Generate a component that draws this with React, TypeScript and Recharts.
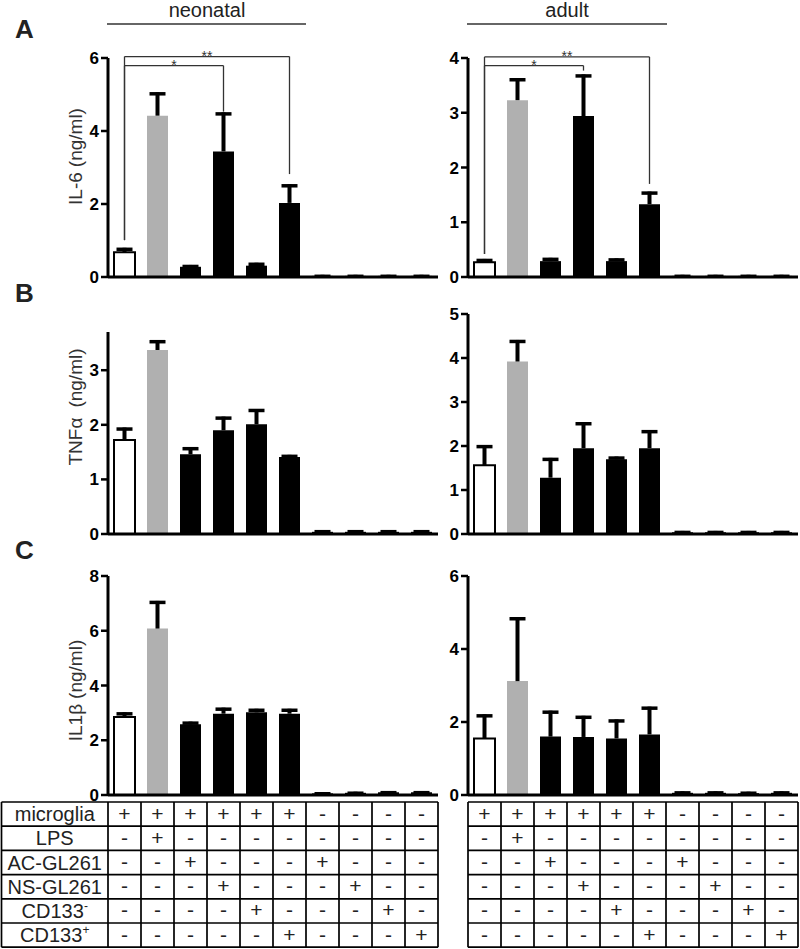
import React from 'react';
import { BarChart, Bar, XAxis, YAxis, Cell, ReferenceLine } from 'recharts';

const FONT = '"Liberation Sans", Arial, Helvetica, sans-serif';

const categories = ['c1', 'c2', 'c3', 'c4', 'c5', 'c6', 'c7', 'c8', 'c9', 'c10'];
const barFills = ['#ffffff', '#b0b0b0', '#000000', '#000000', '#000000', '#000000', '#000000', '#000000', '#000000', '#000000'];

// IL-6 (ng/ml)
const il6NeoMean = [0.68, 4.42, 0.28, 3.44, 0.31, 2.03, 0.03, 0.03, 0.03, 0.03];
const il6NeoErr = [0.12, 0.64, 0.05, 1.07, 0.08, 0.51, 0.03, 0.03, 0.03, 0.03];
const il6AdultMean = [0.27, 3.23, 0.29, 2.94, 0.29, 1.33, 0.02, 0.02, 0.02, 0.02];
const il6AdultErr = [0.06, 0.4, 0.06, 0.76, 0.05, 0.23, 0.02, 0.02, 0.02, 0.02];

// TNFα (ng/ml)
const tnfNeoMean = [1.72, 3.37, 1.46, 1.9, 2.01, 1.41, 0.04, 0.04, 0.04, 0.04];
const tnfNeoErr = [0.23, 0.18, 0.13, 0.25, 0.28, 0.04, 0.03, 0.03, 0.03, 0.03];
const tnfAdultMean = [1.56, 3.92, 1.28, 1.95, 1.7, 1.95, 0.04, 0.04, 0.04, 0.04];
const tnfAdultErr = [0.46, 0.49, 0.45, 0.59, 0.06, 0.41, 0.03, 0.03, 0.03, 0.03];

// IL1β (ng/ml)
const il1NeoMean = [2.85, 6.08, 2.58, 2.97, 3.02, 2.97, 0.06, 0.08, 0.1, 0.1];
const il1NeoErr = [0.17, 1.01, 0.1, 0.22, 0.13, 0.18, 0.04, 0.04, 0.04, 0.04];
const il1AdultMean = [1.55, 3.12, 1.6, 1.59, 1.55, 1.66, 0.06, 0.06, 0.05, 0.06];
const il1AdultErr = [0.66, 1.75, 0.71, 0.58, 0.52, 0.76, 0.04, 0.04, 0.04, 0.04];

// significance brackets (panel A)
const il6NeoBrackets = [
  { from: 'c1', to: 'c6', y: 6.04, leftEnd: 1.01, rightEnd: 2.82, mark: '**' },
  { from: 'c1', to: 'c4', y: 5.79, leftEnd: 1.01, rightEnd: 4.53, mark: '*' },
];
const il6AdultBrackets = [
  { from: 'c1', to: 'c6', y: 4.02, leftEnd: 0.42, rightEnd: 1.7, mark: '**' },
  { from: 'c1', to: 'c4', y: 3.86, leftEnd: 0.42, rightEnd: 3.77, mark: '*' },
];

// condition table
const rowLabels = [
  ['microglia', ''],
  ['LPS', ''],
  ['AC-GL261', ''],
  ['NS-GL261', ''],
  ['CD133', '-'],
  ['CD133', '+'],
];
const tableSigns = [
  ['+', '+', '+', '+', '+', '+', '-', '-', '-', '-'],
  ['-', '+', '-', '-', '-', '-', '-', '-', '-', '-'],
  ['-', '-', '+', '-', '-', '-', '+', '-', '-', '-'],
  ['-', '-', '-', '+', '-', '-', '-', '+', '-', '-'],
  ['-', '-', '-', '-', '+', '-', '-', '-', '+', '-'],
  ['-', '-', '-', '-', '-', '+', '-', '-', '-', '+'],
];

const ErrShape = (props: any) => {
  const { x, y, width, height } = props;
  if (x == null || y == null) return null;
  const cx = x + width / 2;
  return (
    <g>
      <line x1={cx} x2={cx} y1={y + height} y2={y} stroke="#000" strokeWidth={4} />
      <line x1={cx - 8} x2={cx + 8} y1={y + 1.5} y2={y + 1.5} stroke="#000" strokeWidth={3.5} />
    </g>
  );
};

const YTick = (props: any) => {
  const { x, y, payload } = props;
  return (
    <text x={x} y={y + 6} textAnchor="end" fontSize={17} fontWeight={700} fill="#000" fontFamily={FONT}>
      {payload.value}
    </text>
  );
};

const StarLabel = (mark: string) => (props: any) => {
  const vb = props.viewBox || {};
  const cx = (vb.x || 0) + (vb.width || 0) / 2;
  const y = vb.y || 0;
  return (
    <text x={cx} y={y + 4} textAnchor="middle" fontSize={14} fill="#333" fontFamily={FONT}>
      {mark}
    </text>
  );
};

const YLabel = (parts: string[], dy: number) => (props: any) => {
  const vb = props.viewBox || {};
  const cx = (vb.x || 0) + 75;
  const cy = (vb.y || 0) + (vb.height || 0) / 2 + dy;
  return (
    <text
      x={cx}
      y={cy}
      transform={`rotate(-90, ${cx}, ${cy})`}
      textAnchor="middle"
      dominantBaseline="central"
      fontSize={19}
      fill="#333"
      fontFamily={FONT}
    >
      <tspan>{parts[0]}</tspan>
      <tspan dx={parts.length > 2 ? 10 : 5}>{parts[1]}</tspan>
    </text>
  );
};

type PanelProps = {
  left: number;
  top: number;
  height: number;
  marginTop: number;
  marginRight: number;
  mean: number[];
  err: number[];
  domain: [number, number];
  ticks: number[];
  yLabel?: string[];
  labelDy?: number;
  brackets?: typeof il6NeoBrackets;
};

function Panel(p: PanelProps) {
  const data = categories.map((c, i) => ({ cat: c, v: p.mean[i], e: p.err[i] }));
  const lineStyle = { stroke: '#333', strokeWidth: 1.3 };
  return (
    <div style={{ position: 'absolute', left: p.left, top: p.top }}>
      <BarChart
        width={440}
        height={p.height}
        data={data}
        margin={{ top: p.marginTop, right: p.marginRight, bottom: 12, left: 0 }}
      >
        <XAxis
          dataKey="cat"
          height={2}
          tick={false}
          tickLine={false}
          axisLine={{ stroke: '#000', strokeWidth: 3 }}
        />
        <YAxis
          width={108}
          domain={p.domain}
          ticks={p.ticks}
          interval={0}
          allowDataOverflow
          tickSize={7}
          tickMargin={2}
          axisLine={{ stroke: '#000', strokeWidth: 3 }}
          tickLine={{ stroke: '#000', strokeWidth: 2.5 }}
          tick={YTick}
          label={p.yLabel ? { content: YLabel(p.yLabel, p.labelDy || 0) } : undefined}
        />
        <Bar dataKey="v" stackId="s" barSize={21} isAnimationActive={false}>
          {data.map((d, i) => (
            <Cell
              key={d.cat}
              fill={barFills[i]}
              stroke={i === 0 ? '#000' : 'none'}
              strokeWidth={i === 0 ? 2 : 0}
            />
          ))}
        </Bar>
        <Bar dataKey="e" stackId="s" barSize={21} shape={ErrShape} isAnimationActive={false} />
        {(p.brackets || []).map((b, i) => (
          <ReferenceLine
            key={'h' + i}
            segment={[
              { x: b.from, y: b.y },
              { x: b.to, y: b.y },
            ]}
            ifOverflow="visible"
            {...lineStyle}
            label={{ content: StarLabel(b.mark) }}
          />
        ))}
        {(p.brackets || []).map((b, i) => (
          <ReferenceLine
            key={'l' + i}
            segment={[
              { x: b.from, y: b.y },
              { x: b.from, y: b.leftEnd },
            ]}
            ifOverflow="visible"
            {...lineStyle}
          />
        ))}
        {(p.brackets || []).map((b, i) => (
          <ReferenceLine
            key={'r' + i}
            segment={[
              { x: b.to, y: b.y },
              { x: b.to, y: b.rightEnd },
            ]}
            ifOverflow="visible"
            {...lineStyle}
          />
        ))}
      </BarChart>
    </div>
  );
}

function ConditionTable({ x0, withLabels }: { x0: number; withLabels: boolean }) {
  const top = 802;
  const rowH = 24.2;
  const colW = 33;
  const labelLeft = 1.5;
  const right = x0 + colW * 10;
  const left = withLabels ? labelLeft : x0;
  const bottom = top + rowH * rowLabels.length;
  const lines: React.ReactNode[] = [];
  for (let r = 0; r <= rowLabels.length; r++) {
    lines.push(
      <line key={'hr' + r} x1={left} x2={right} y1={top + r * rowH} y2={top + r * rowH} stroke="#000" strokeWidth={1.7} />
    );
  }
  const vx: number[] = [];
  if (withLabels) vx.push(labelLeft);
  for (let c = 0; c <= 10; c++) vx.push(x0 + c * colW);
  vx.forEach((x, i) =>
    lines.push(<line key={'vr' + i} x1={x} x2={x} y1={top} y2={bottom} stroke="#000" strokeWidth={1.7} />)
  );
  return (
    <g>
      {lines}
      {withLabels &&
        rowLabels.map((l, r) => (
          <text
            key={'lab' + r}
            x={(labelLeft + x0) / 2}
            y={top + r * rowH + rowH / 2 + 7}
            textAnchor="middle"
            fontSize={20}
            fill="#222"
            fontFamily={FONT}
          >
            {l[0]}
            {l[1] ? (
              <tspan fontSize={12} dy={-8}>
                {l[1]}
              </tspan>
            ) : null}
          </text>
        ))}
      {tableSigns.map((row, r) =>
        row.map((s, c) => (
          <text
            key={r + '-' + c}
            x={x0 + c * colW + colW / 2}
            y={top + r * rowH + rowH / 2 + 6.5}
            textAnchor="middle"
            fontSize={21}
            fill="#222"
            fontFamily={FONT}
          >
            {s}
          </text>
        ))
      )}
    </g>
  );
}

export default function App() {
  return (
    <div style={{ position: 'absolute', left: 0, top: 0, width: 800, height: 949, background: '#fff', overflow: 'hidden' }}>
      <svg width={800} height={949} style={{ position: 'absolute', left: 0, top: 0 }}>
        <text x={207} y={17} textAnchor="middle" fontSize={20} fill="#222" fontFamily={FONT}>
          neonatal
        </text>
        <line x1={107} x2={306} y1={24} y2={24} stroke="#333" strokeWidth={1.5} />
        <text x={567} y={17} textAnchor="middle" fontSize={20} fill="#222" fontFamily={FONT}>
          adult
        </text>
        <line x1={467} x2={667} y1={24} y2={24} stroke="#333" strokeWidth={1.5} />
        <text x={15} y={38} fontSize={26} fontWeight={700} fill="#222" fontFamily={FONT}>
          A
        </text>
        <text x={15} y={302} fontSize={26} fontWeight={700} fill="#222" fontFamily={FONT}>
          B
        </text>
        <text x={15} y={559} fontSize={26} fontWeight={700} fill="#222" fontFamily={FONT}>
          C
        </text>
        <ConditionTable x0={108} withLabels={true} />
        <ConditionTable x0={468} withLabels={false} />
      </svg>

      <Panel left={0} top={30} height={261} marginTop={28} marginRight={2} mean={il6NeoMean} err={il6NeoErr}
        domain={[0, 6]} ticks={[0, 2, 4, 6]} yLabel={['IL-6', '(ng/ml)']} labelDy={-11} brackets={il6NeoBrackets} />
      <Panel left={360} top={30} height={261} marginTop={28} marginRight={2} mean={il6AdultMean} err={il6AdultErr}
        domain={[0, 4]} ticks={[0, 1, 2, 3, 4]} brackets={il6AdultBrackets} />

      <Panel left={0} top={300} height={248} marginTop={32} marginRight={2} mean={tnfNeoMean} err={tnfNeoErr}
        domain={[0, 3.7]} ticks={[0, 1, 2, 3]} yLabel={['TNFα', '(ng/ml)', 'wide']} labelDy={-26} />
      <Panel left={360} top={300} height={248} marginTop={14} marginRight={2} mean={tnfAdultMean} err={tnfAdultErr}
        domain={[0, 5]} ticks={[0, 1, 2, 3, 4, 5]} />

      <Panel left={0} top={560} height={249} marginTop={16} marginRight={2} mean={il1NeoMean} err={il1NeoErr}
        domain={[0, 8]} ticks={[0, 2, 4, 6, 8]} yLabel={['IL1β', '(ng/ml)']} labelDy={5} />
      <Panel left={360} top={560} height={249} marginTop={16} marginRight={2} mean={il1AdultMean} err={il1AdultErr}
        domain={[0, 6]} ticks={[0, 2, 4, 6]} />
    </div>
  );
}
